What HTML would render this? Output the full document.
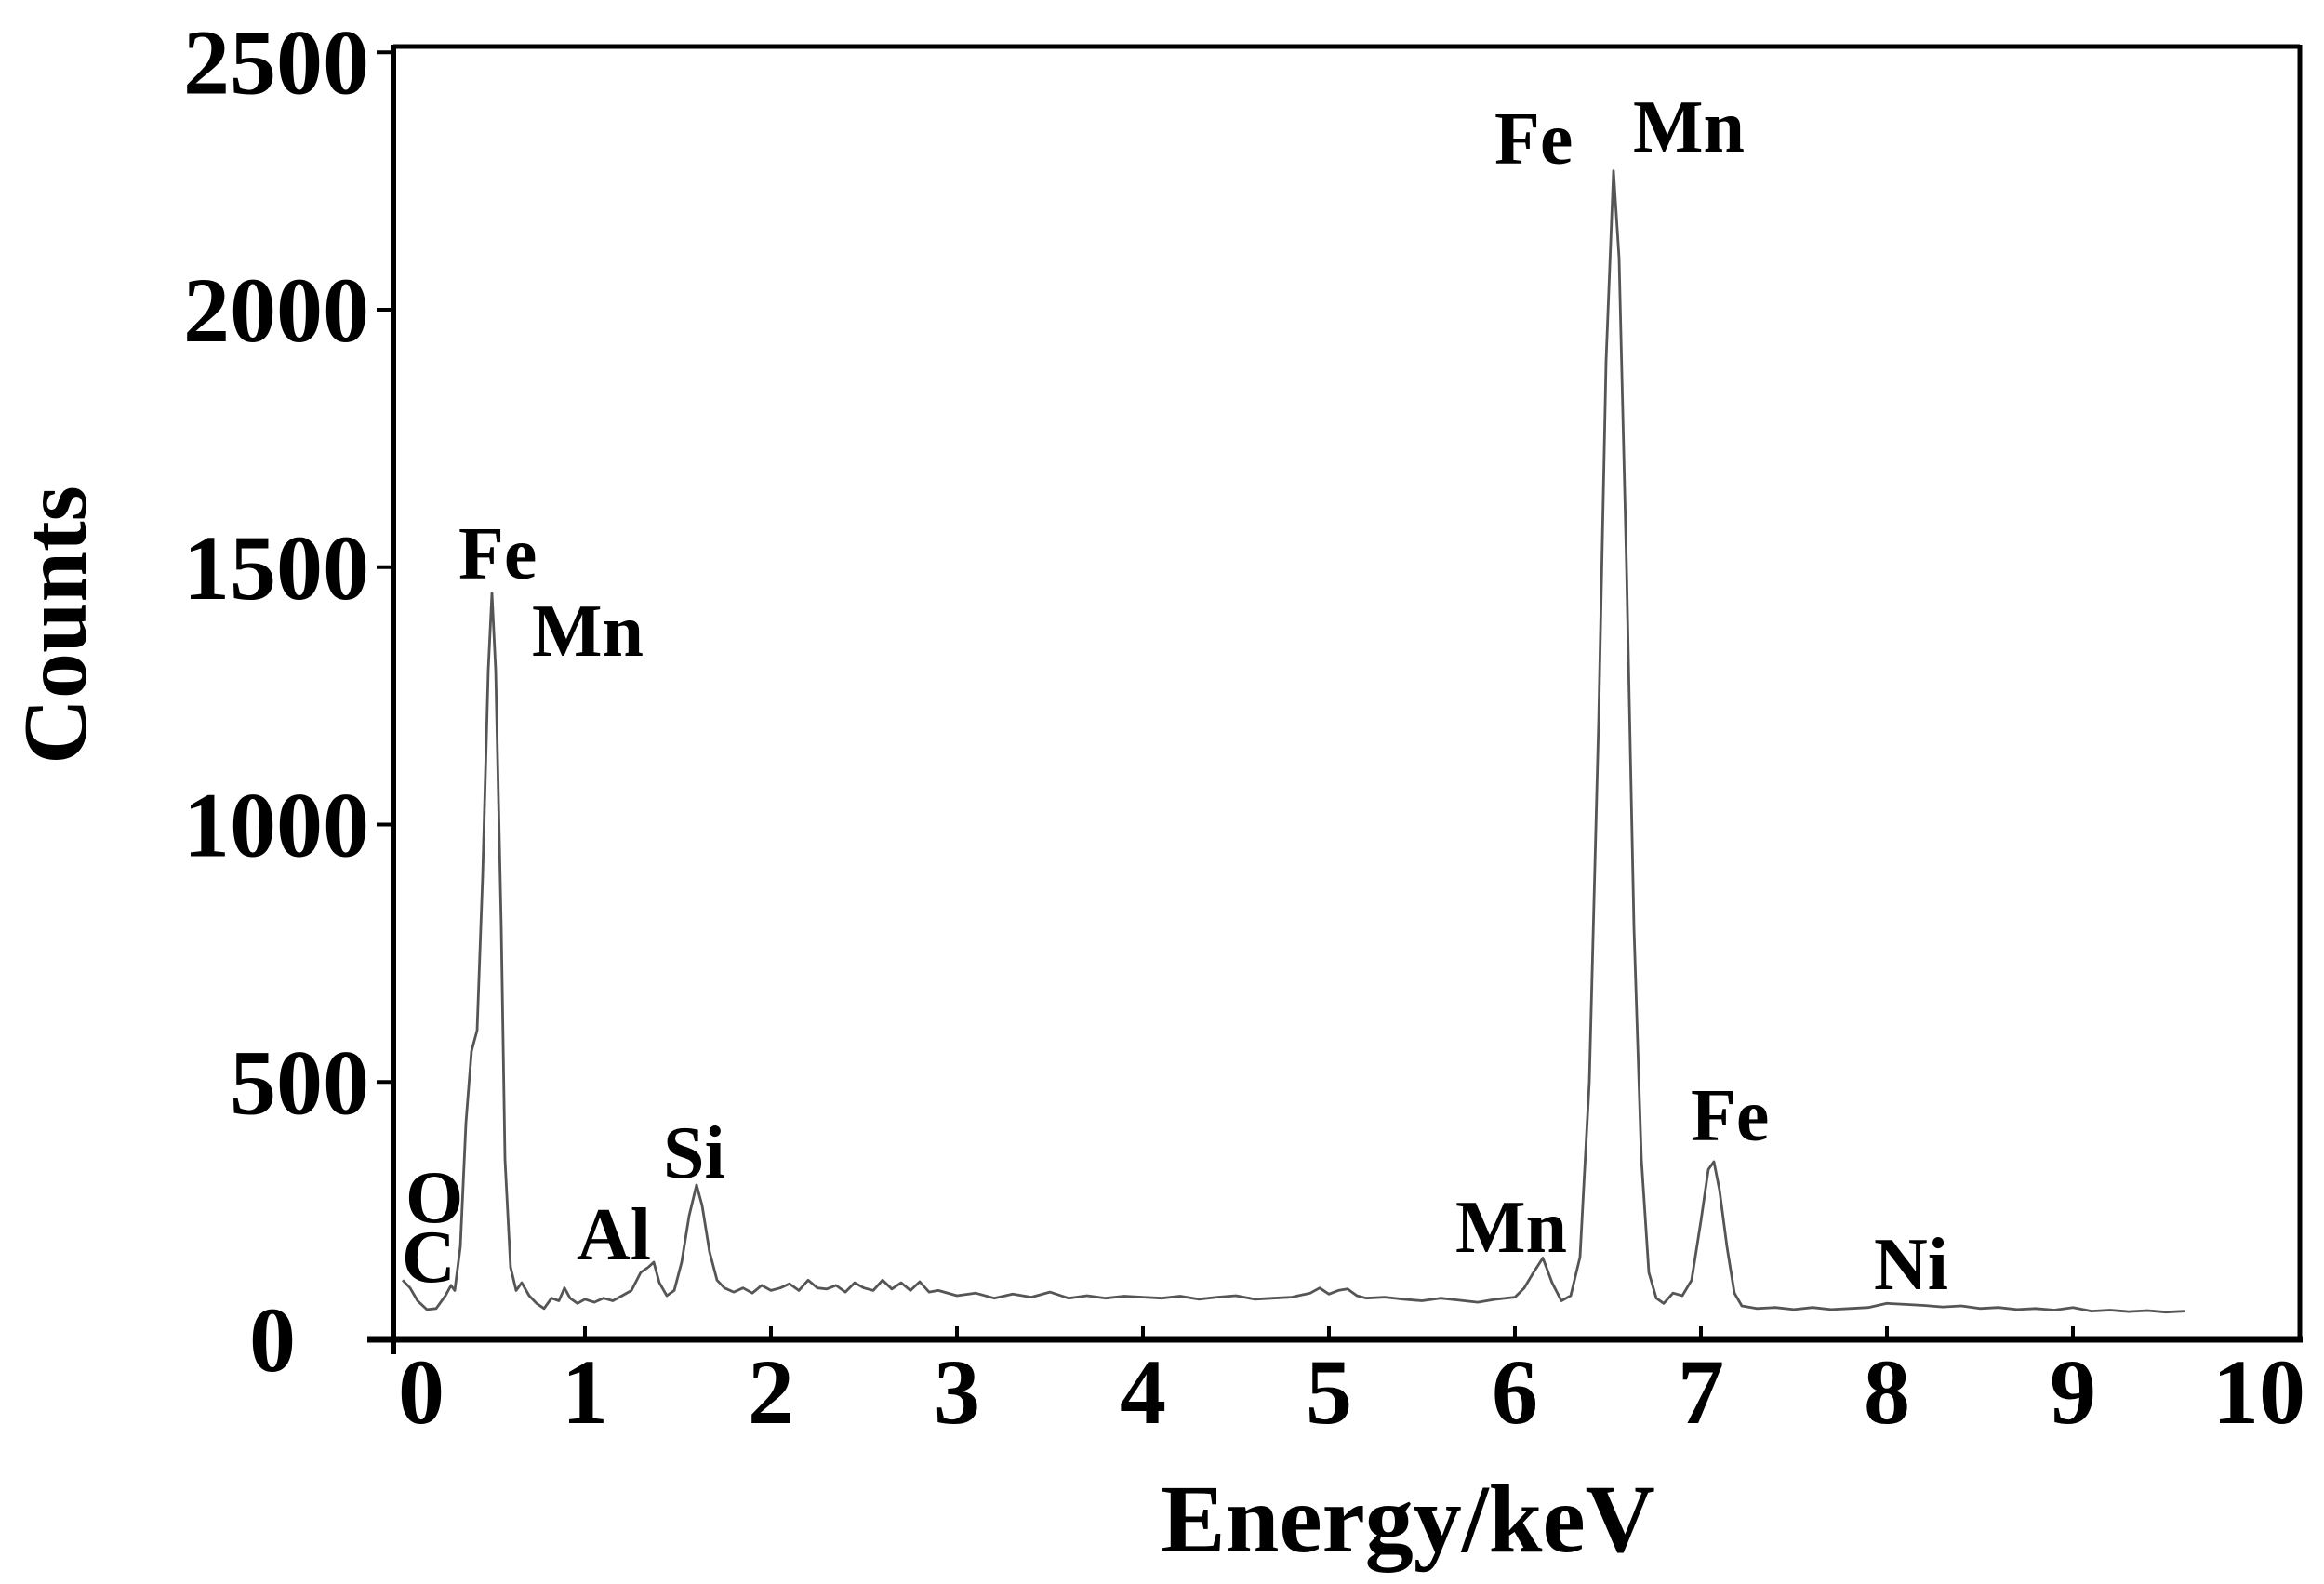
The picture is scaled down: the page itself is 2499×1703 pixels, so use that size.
<!DOCTYPE html>
<html><head><meta charset="utf-8"><style>
html,body{margin:0;padding:0;background:#fff}
svg{display:block}
text{font-family:"Liberation Serif",serif;font-weight:bold;fill:#000}
</style></head><body>
<svg id="chart" width="2499" height="1703" viewBox="0 0 2499 1703" xmlns="http://www.w3.org/2000/svg">
<rect width="2499" height="1703" fill="#fff"/>
<g id="frame">
<line x1="423" y1="50" x2="2473" y2="50" stroke="#000" stroke-width="5"/>
<line x1="2473" y1="48" x2="2473" y2="1443" stroke="#000" stroke-width="5"/>
</g>
<g id="spectrum"></g>
<g id="axes"></g>
<g id="labels"></g>
<text x="92" y="672" font-size="98" text-anchor="middle" transform="rotate(-90 92 672)">Counts</text>
<text x="1514" y="1668" font-size="104" text-anchor="middle">Energy/keV</text>
</svg>
<script>
const energy=[0.02,0.06,0.1,0.15,0.2,0.25,0.28,0.3,0.33,0.36,0.39,0.42,0.45,0.48,0.50,0.52,0.55,0.57,0.60,0.63,0.66,0.70,0.74,0.78,0.82,0.86,0.89,0.92,0.96,1.0,1.05,1.1,1.15,1.2,1.25,1.3,1.34,1.37,1.4,1.44,1.48,1.52,1.56,1.6,1.63,1.67,1.71,1.75,1.8,1.85,1.9,1.95,2.0,2.05,2.1,2.15,2.2,2.25,2.3,2.35,2.4,2.45,2.5,2.55,2.6,2.65,2.7,2.75,2.8,2.85,2.9,3.0,3.1,3.2,3.3,3.4,3.5,3.6,3.7,3.8,3.9,4.0,4.1,4.2,4.3,4.4,4.5,4.6,4.7,4.8,4.9,4.95,5.0,5.05,5.1,5.15,5.2,5.3,5.4,5.5,5.6,5.7,5.8,5.9,6.0,6.05,6.1,6.15,6.2,6.25,6.3,6.35,6.4,6.45,6.49,6.53,6.56,6.6,6.64,6.68,6.72,6.76,6.8,6.85,6.9,6.95,7.0,7.04,7.07,7.1,7.14,7.18,7.22,7.3,7.4,7.5,7.6,7.7,7.8,7.9,8.0,8.1,8.2,8.3,8.4,8.5,8.6,8.7,8.8,8.9,9.0,9.1,9.2,9.3,9.4,9.5,9.6];
const counts=[115,100,75,58,60,85,105,95,180,420,560,600,900,1300,1450,1300,800,350,140,95,110,85,70,60,80,75,100,80,70,78,72,80,75,85,95,130,140,150,110,85,95,150,240,300,260,170,115,100,92,100,90,105,95,100,108,95,115,100,98,105,92,110,100,95,115,98,110,95,112,92,95,85,90,80,88,82,92,80,85,80,84,82,80,84,78,82,85,78,80,82,90,100,88,95,98,85,80,82,78,75,80,76,72,78,82,100,130,158,110,75,85,160,500,1200,1900,2270,2100,1500,800,350,130,80,70,90,85,115,230,330,345,290,180,90,65,60,62,58,62,58,60,62,70,68,66,63,65,60,62,58,60,57,62,55,57,54,56,53,55];
const xTicks=[0,1,2,3,4,5,6,7,8,9,10];
const yTicks=[0,500,1000,1500,2000,2500];
const peakLabels=["Fe","Mn","Fe","Mn","Si","Al","O","C","Mn","Fe","Ni"];
const peakLabelE=[0.32,0.715,5.89,6.635,1.42,0.955,0.035,0.015,5.68,6.945,7.93];
const peakLabelC=[1478,1328,2284,2307,314,155,228,112,170,387,98];
const NS="http://www.w3.org/2000/svg";
const X=e=>429+200*e, Y=c=>1440-c*0.5535;
function mk(tag,attrs,parent){const el=document.createElementNS(NS,tag);for(const k in attrs)el.setAttribute(k,attrs[k]);parent.appendChild(el);return el;}
const sp=document.getElementById('spectrum');
const path=mk('path',{d:energy.map((e,i)=>(i?'L':'M')+X(e).toFixed(1)+' '+Y(counts[i]).toFixed(1)).join(' '),fill:'none',stroke:'#555','stroke-width':2.8,'stroke-linejoin':'round'},sp);


const ax=document.getElementById('axes');
const xl=mk('line',{x1:395,y1:1440,x2:2476,y2:1440,stroke:'#000','stroke-width':7},ax);


const yl=mk('line',{x1:423,y1:48,x2:423,y2:1456,stroke:'#000','stroke-width':6},ax);


xTicks.forEach((t,i)=>{
 if(t>0&&t<10){const tk=mk('line',{x1:X(t),y1:1440,x2:X(t),y2:1426,stroke:'#000','stroke-width':4},ax);
 
 }
 const lb=mk('text',{x:(t===0?453:X(t)),y:1530,'font-size':100,'text-anchor':'middle'},ax);
 lb.textContent=t;
 
 
});
yTicks.forEach(t=>{
 const tk=mk('line',{x1:405,y1:Y(t),x2:423,y2:Y(t),stroke:'#000','stroke-width':4},ax);
 
 
 const lb=mk('text',{x:(t===0?318:397),y:Y(t)+(t===2500?44:34),'font-size':100,'text-anchor':'end'},ax);
 lb.textContent=t;
 
 
});
const lg=document.getElementById('labels');
peakLabels.forEach((s,i)=>{
 const reg=(s==='O'||s==='C');
 const lb=mk('text',{x:X(peakLabelE[i]),y:Y(peakLabelC[i]),'font-size':80,'font-weight':reg?'normal':'bold'},lg);
 lb.textContent=s;
 
 
});
</script>
</body></html>
